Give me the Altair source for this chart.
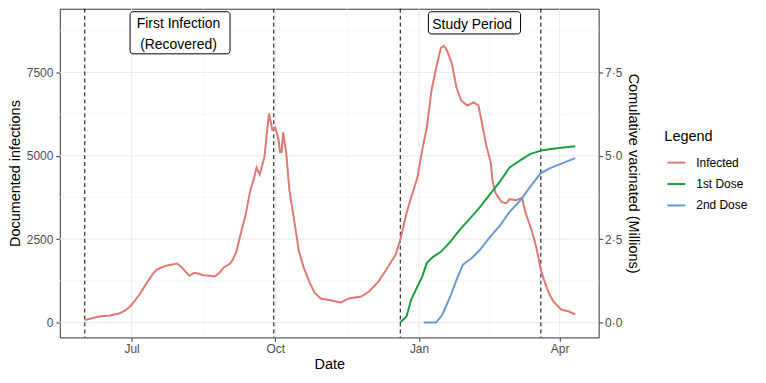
import altair as alt
import pandas as pd

# ---------------- data ----------------
inf_dates = [
    "2020-06-01", "2020-06-05", "2020-06-10", "2020-06-17", "2020-06-23", "2020-06-27",
    "2020-06-30", "2020-07-03", "2020-07-06", "2020-07-09", "2020-07-12", "2020-07-15",
    "2020-07-17", "2020-07-20", "2020-07-23", "2020-07-27", "2020-07-30", "2020-08-02",
    "2020-08-05", "2020-08-07", "2020-08-10", "2020-08-13", "2020-08-16", "2020-08-20",
    "2020-08-23", "2020-08-26", "2020-08-29", "2020-09-02", "2020-09-04", "2020-09-06",
    "2020-09-09", "2020-09-12", "2020-09-15", "2020-09-17", "2020-09-19", "2020-09-21",
    "2020-09-24", "2020-09-26", "2020-09-27", "2020-09-29", "2020-10-01", "2020-10-03",
    "2020-10-04", "2020-10-05", "2020-10-06", "2020-10-08", "2020-10-10", "2020-10-12",
    "2020-10-15", "2020-10-16", "2020-10-19", "2020-10-23", "2020-10-26", "2020-10-30",
    "2020-11-06", "2020-11-12", "2020-11-17", "2020-11-25", "2020-11-30", "2020-12-06",
    "2020-12-11", "2020-12-17", "2020-12-20", "2020-12-24", "2020-12-27", "2020-12-31",
    "2021-01-03", "2021-01-06", "2021-01-09", "2021-01-12", "2021-01-15", "2021-01-17",
    "2021-01-19", "2021-01-22", "2021-01-25", "2021-01-28", "2021-02-01", "2021-02-05",
    "2021-02-08", "2021-02-10", "2021-02-13", "2021-02-16", "2021-02-17", "2021-02-19",
    "2021-02-23", "2021-02-26", "2021-02-28", "2021-03-04", "2021-03-08", "2021-03-10",
    "2021-03-14", "2021-03-17", "2021-03-20", "2021-03-22", "2021-03-25", "2021-03-28",
    "2021-04-02", "2021-04-07", "2021-04-11",
]
inf_values = [
    70, 120, 180, 210, 270, 360,
    480, 650, 840, 1060, 1280, 1480,
    1580, 1650, 1700, 1740, 1770, 1660,
    1500, 1400, 1490, 1460, 1420, 1400,
    1380, 1480, 1650, 1770, 1900, 2120,
    2690, 3230, 3970, 4270, 4650, 4440,
    4960, 5850, 6270, 5780, 5850, 5500,
    5110, 5110, 5700, 5080, 3970, 3380,
    2480, 2150, 1670, 1195, 900, 720,
    660, 600, 720, 780, 930, 1225,
    1580, 2030, 2480, 3280, 3760, 4350,
    5170, 5850, 6960, 7650, 8240, 8300,
    8150, 7770, 7050, 6660, 6510, 6600,
    6510, 6060, 5320, 4780, 4270, 3880,
    3610, 3580, 3700, 3670, 3730, 3320,
    2780, 2270, 1580, 1280, 900, 630,
    390, 330, 240,
]

dose1_dates = [
    "2020-12-20", "2020-12-24", "2020-12-27", "2020-12-31", "2021-01-03", "2021-01-06",
    "2021-01-10", "2021-01-15", "2021-01-21", "2021-01-27", "2021-02-03", "2021-02-09",
    "2021-02-15", "2021-02-22", "2021-02-28", "2021-03-07", "2021-03-13", "2021-03-21",
    "2021-03-30", "2021-04-11",
]
dose1_values = [
    0.0, 0.18, 0.69, 1.08, 1.37, 1.79,
    1.97, 2.12, 2.42, 2.78, 3.14, 3.46,
    3.82, 4.24, 4.65, 4.87, 5.05, 5.17,
    5.23, 5.29,
]

dose2_dates = [
    "2021-01-04", "2021-01-12", "2021-01-16", "2021-01-21", "2021-01-25", "2021-01-29",
    "2021-02-04", "2021-02-09", "2021-02-15", "2021-02-22", "2021-02-28", "2021-03-07",
    "2021-03-13", "2021-03-20", "2021-03-26", "2021-04-03", "2021-04-11",
]
dose2_values = [
    0.0, 0.0, 0.24, 0.78, 1.28, 1.73,
    1.94, 2.18, 2.54, 2.92, 3.32, 3.67,
    4.06, 4.48, 4.63, 4.78, 4.93,
]

series_names = ["Infected", "1st Dose", "2nd Dose"]
series_colors = ["#DE7A72", "#1E9E3E", "#6A98CF"]

# period boundaries (dashed lines)
period_lines = ["2020-06-01", "2020-09-30", "2020-12-20", "2021-03-20"]

# annotation labels
label_texts = ["First Infection\n\u00a0(Recovered)", "Study Period"]
label_dates = ["2020-07-31", "2021-02-04"]
label_y = [8955, 8934]
box_x0 = ["2020-06-30", "2021-01-07"]
box_x1 = ["2020-09-02", "2021-03-07"]
box_y0 = [8059, 8656]
box_y1 = [9323, 9323]

# gridlines
x_major = ["2020-07-01", "2020-10-01", "2021-01-01", "2021-04-01"]
x_minor = ["2020-08-16", "2020-11-16", "2021-02-15"]
y_major = [0, 2500, 5000, 7500]
y_minor = [1250, 3750, 6250, 8750]
right_ticks = [0, 2.5, 5, 7.5]

# ---------------- frames ----------------
inf_df = pd.DataFrame({"date": inf_dates, "value": inf_values, "series": "Infected"})
vac_df = pd.concat([
    pd.DataFrame({"date": dose1_dates, "value": dose1_values, "series": "1st Dose"}),
    pd.DataFrame({"date": dose2_dates, "value": dose2_values, "series": "2nd Dose"}),
])
lab_df = pd.DataFrame({"date": label_dates, "y": label_y, "text": label_texts,
                       "x0": box_x0, "x1": box_x1, "y0": box_y0, "y1": box_y1})

FONT = "Liberation Sans"


def dt(s):
    y, m, d = (int(p) for p in s.split("-"))
    return alt.DateTime(year=y, month=m, date=d, utc=True)


X_SCALE = alt.Scale(type="utc", domain=[dt("2020-05-16"), dt("2021-04-26")])
Y_LEFT = alt.Scale(domain=[-448, 9412], nice=False, zero=False)
Y_RIGHT = alt.Scale(domain=[-0.448, 9.412], nice=False, zero=False)
COLOR = alt.Scale(domain=series_names, range=series_colors)

x_axis = alt.Axis(
    values=[dt(s) for s in x_major], labelExpr="utcFormat(datum.value, '%b')",
    title="Date",
    grid=False, domain=False, tickColor="#333333", tickSize=4, labelColor="#4D4D4D",
    labelFontSize=12, labelFont=FONT, titleFont=FONT, titleFontSize=14.5,
    titleFontWeight="normal", titleColor="black", labelPadding=2, titlePadding=3,
)
y_axis_left = alt.Axis(
    values=y_major, title="Documented infections", grid=False, domain=False,
    tickColor="#333333", tickSize=4, labelColor="#4D4D4D", labelFontSize=12,
    labelFont=FONT, titleFont=FONT, titleFontSize=14.5, titleFontWeight="normal",
    titleColor="black", labelPadding=3, titlePadding=4, format="d",
)
y_axis_right = alt.Axis(
    values=right_ticks, orient="right", title="Comulative vacinated (Millions)",
    grid=False, domain=False, tickColor="#333333", tickSize=4, labelColor="#4D4D4D",
    labelFontSize=12, labelFont=FONT, titleFont=FONT, titleFontSize=14.5,
    titleFontWeight="normal", titleColor="black", labelPadding=2, titlePadding=4,
    labelExpr="replace(format(datum.value, '.1f'), '.', '·')",
)

legend = alt.Legend(
    title="Legend", orient="none", legendX=607, legendY=122, symbolType="stroke",
    symbolSize=324, symbolStrokeWidth=2, labelFontSize=12, labelFont=FONT,
    titleFont=FONT, titleFontSize=14.5, titleFontWeight="normal", titleColor="black",
    labelColor="black", labelOffset=10, rowPadding=5.5, padding=0, titlePadding=8,
    symbolOffset=2,
)


def X(field):
    return alt.X(field, scale=X_SCALE, axis=x_axis)


def YL(field):
    return alt.Y(field, scale=Y_LEFT, axis=y_axis_left)


# gridlines
vgrid_major = alt.Chart(pd.DataFrame({"date": x_major})).mark_rule(
    color="#EBEBEB", strokeWidth=1.1).encode(x=X("date:T"))
vgrid_minor = alt.Chart(pd.DataFrame({"date": x_minor})).mark_rule(
    color="#F2F2F2", strokeWidth=0.7).encode(x=X("date:T"))
hgrid_major = alt.Chart(pd.DataFrame({"v": y_major})).mark_rule(
    color="#EBEBEB", strokeWidth=1.1).encode(y=YL("v:Q"))
hgrid_minor = alt.Chart(pd.DataFrame({"v": y_minor})).mark_rule(
    color="#F2F2F2", strokeWidth=0.7).encode(y=YL("v:Q"))

vlines = alt.Chart(pd.DataFrame({"date": period_lines})).mark_rule(
    color="black", strokeWidth=1, strokeDash=[4, 3]).encode(x=X("date:T"))

inf_line = alt.Chart(inf_df).mark_line(strokeWidth=2).encode(
    x=X("date:T"),
    y=YL("value:Q"),
    color=alt.Color("series:N", scale=COLOR, legend=legend, sort=series_names),
)

boxes = alt.Chart(lab_df).mark_rect(
    fill="white", stroke="black", strokeWidth=1, cornerRadius=3).encode(
    x=X("x0:T"), x2="x1:T",
    y=YL("y0:Q"), y2="y1:Q",
)
texts = alt.Chart(lab_df).mark_text(
    font=FONT, fontSize=14, lineBreak="\n", lineHeight=21, align="center",
    baseline="middle", color="black").encode(
    x=X("date:T"),
    y=YL("y:Q"),
    text="text:N",
)

left = alt.layer(vgrid_minor, hgrid_minor, vgrid_major, hgrid_major, vlines,
                 inf_line, boxes, texts)

vac_line = alt.Chart(vac_df).mark_line(strokeWidth=2).encode(
    x=X("date:T"),
    y=alt.Y("value:Q", scale=Y_RIGHT, axis=y_axis_right),
    color=alt.Color("series:N", scale=COLOR, legend=legend, sort=series_names),
)

chart = alt.layer(left, vac_line).resolve_scale(y="independent").properties(
    width=541, height=330,
    autosize=alt.AutoSizeParams(type="none"),
    padding={"left": 52, "top": 0, "right": 160, "bottom": 40},
    background="white",
).configure_view(stroke="#333333", strokeWidth=1)

chart.save("out.html", embed_options={"renderer": "svg", "actions": False})
